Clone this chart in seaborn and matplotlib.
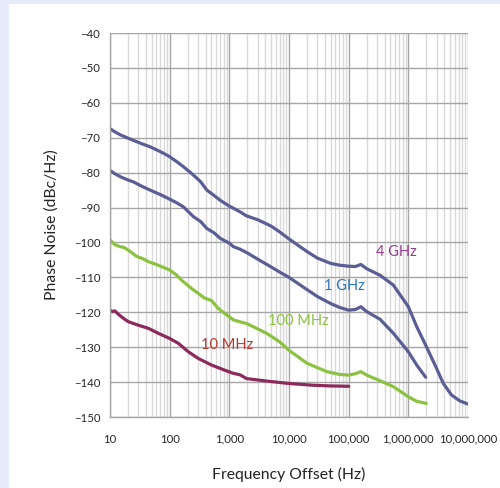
import numpy as np
import pandas as pd
import matplotlib
matplotlib.use("Agg")
import matplotlib.pyplot as plt
import matplotlib.ticker as mticker
from matplotlib.patches import Rectangle
import seaborn as sns

# ---- data ----
f_4g = [10, 12, 15, 20, 25, 35, 47, 70, 95, 130, 170, 250, 330, 420, 550, 700,
        1000, 1170, 1500, 1950, 3000, 5000, 7000, 10000, 20000, 30000, 50000,
        70000, 100000, 130000, 160000, 200000, 335000, 560000, 1000000,
        1380000, 2000000, 2800000, 3860000, 5300000, 7300000, 10000000]
db_4g = [-67.4, -68.3, -69.2, -70.1, -70.8, -71.8, -72.6, -74.0, -75.2, -76.8,
         -78.3, -80.7, -82.6, -85.0, -86.5, -87.9, -89.6, -90.2, -91.2, -92.4,
         -93.5, -95.3, -97.0, -99.0, -102.6, -104.5, -106.0, -106.5, -106.8,
         -106.9, -106.3, -107.5, -109.4, -112.2, -118.4, -124.1, -129.8,
         -135.1, -140.4, -143.7, -145.4, -146.3]

f_1g = [10, 12, 15, 20, 25, 35, 47, 70, 95, 130, 170, 250, 330, 420, 550, 700,
        1000, 1170, 1500, 2000, 3000, 5000, 7000, 10000, 20000, 30000, 50000,
        70000, 100000, 130000, 160000, 200000, 335000, 560000, 1000000,
        1380000, 1950000]
db_1g = [-79.4, -80.3, -81.2, -82.1, -82.7, -84.0, -85.0, -86.3, -87.4, -88.6,
         -89.8, -92.6, -94.0, -96.0, -97.2, -98.8, -100.2, -101.2, -101.9,
         -103.0, -104.8, -107.0, -108.5, -110.0, -113.5, -115.5, -117.5,
         -118.6, -119.4, -119.2, -118.4, -119.8, -122.0, -126.0, -131.3,
         -135.1, -138.6]

f_100m = [10, 11, 12, 14.7, 17, 20.3, 28, 35, 44, 64, 100, 130, 158, 233, 390,
          500, 650, 1170, 2000, 4200, 7000, 10000, 20000, 43000, 70000, 100000,
          130000, 160000, 200000, 335000, 560000, 1000000, 1380000, 2000000]
db_100m = [-99.3, -100.0, -100.6, -101.2, -101.4, -102.2, -104.0, -104.6,
           -105.5, -106.5, -107.9, -109.3, -110.8, -113.2, -116.0, -116.6,
           -118.9, -122.2, -123.3, -126.0, -128.5, -130.9, -134.6, -137.0,
           -137.8, -138.0, -137.6, -137.0, -138.0, -139.6, -141.3, -144.2,
           -145.5, -146.1]

f_10m = [10, 11, 12, 14.3, 17, 20.3, 29.7, 44, 64, 100, 140, 205, 300, 500, 840,
         1170, 1500, 1950, 4200, 10000, 25000, 50000, 100000]
db_10m = [-119.4, -119.8, -119.6, -120.8, -121.8, -122.7, -123.7, -124.6,
          -126.0, -127.5, -128.9, -131.3, -133.2, -135.1, -136.6, -137.5,
          -137.9, -139.0, -139.7, -140.4, -140.9, -141.1, -141.2]

series_names = ["4 GHz", "1 GHz", "100 MHz", "10 MHz"]
line_colors = ["#5B5E94", "#5B5E94", "#8DC141", "#8C2A5C"]
label_colors = ["#953C8C", "#2F74BA", "#8DC141", "#B7372F"]
label_pos = [(6.2e5, -102.7), (8.35e4, -112.4), (1.42e4, -122.5), (9.3e2, -129.4)]

xticks = [10, 100, 1000, 10000, 100000, 1000000, 10000000]
yticks = list(range(-150, -39, 10))

frames = []
for name, fx, fy in zip(series_names, [f_4g, f_1g, f_100m, f_10m],
                        [db_4g, db_1g, db_100m, db_10m]):
    frames.append(pd.DataFrame({"freq": fx, "pn": fy, "series": name}))
df = pd.concat(frames, ignore_index=True)

# ---- plot ----
sns.set_theme(style="white")
plt.rcParams["font.family"] = ["Lato", "DejaVu Sans"]

fig = plt.figure(figsize=(5.0, 4.88), dpi=100)
fig.patch.set_facecolor("white")
fig.patches.append(Rectangle((0, 0), 9 / 500, 1, transform=fig.transFigure,
                             facecolor="#E6ECFB", edgecolor="none", zorder=-10))
fig.patches.append(Rectangle((0, 1 - 4 / 488), 1, 4 / 488, transform=fig.transFigure,
                             facecolor="#E6ECFB", edgecolor="none", zorder=-10))

ax = fig.add_axes([110 / 500, 1 - 417 / 488, 358 / 500, 384 / 488])

sns.lineplot(data=df, x="freq", y="pn", hue="series", palette=dict(zip(series_names, line_colors)),
             hue_order=series_names, linewidth=2.3, ax=ax, legend=False, sort=False,
             estimator=None)

ax.set_xscale("log")
ax.set_xlim(10, 1e7)
ax.set_ylim(-150, -40)
ax.set_xticks(xticks)
ax.set_yticks(yticks)
ax.xaxis.set_major_formatter(mticker.FuncFormatter(lambda v, p: f"{int(round(v)):,}"))
ax.xaxis.set_minor_locator(mticker.LogLocator(base=10, subs=np.arange(2, 10)))
ax.xaxis.set_minor_formatter(mticker.NullFormatter())

ax.grid(which="major", axis="both", color="#A6A6A6", linewidth=1.0)
ax.grid(which="minor", axis="x", color="#D9D9D9", linewidth=1.0)
ax.set_axisbelow(True)

for s in ["top", "right"]:
    ax.spines[s].set_visible(False)
for s in ["left", "bottom"]:
    ax.spines[s].set_color("#A6A6A6")
    ax.spines[s].set_linewidth(1.0)

ax.tick_params(axis="both", which="major", direction="out", length=4, width=1,
               color="#A6A6A6", labelsize=8.2, labelcolor="#262626", pad=3)
ax.tick_params(axis="x", which="major", pad=8)
ax.tick_params(axis="x", which="minor", length=0)

ax.set_xlabel("Frequency Offset (Hz)", fontsize=11.3, color="#222222", labelpad=16)
ax.set_ylabel("Phase Noise (dBc/Hz)", fontsize=11.3, color="#222222", labelpad=11)

for name, c, (lx, ly) in zip(series_names, label_colors, label_pos):
    ax.text(lx, ly, name, color=c, fontsize=10.5, ha="center", va="center")

fig.savefig("out.png", dpi=100, facecolor="white")
